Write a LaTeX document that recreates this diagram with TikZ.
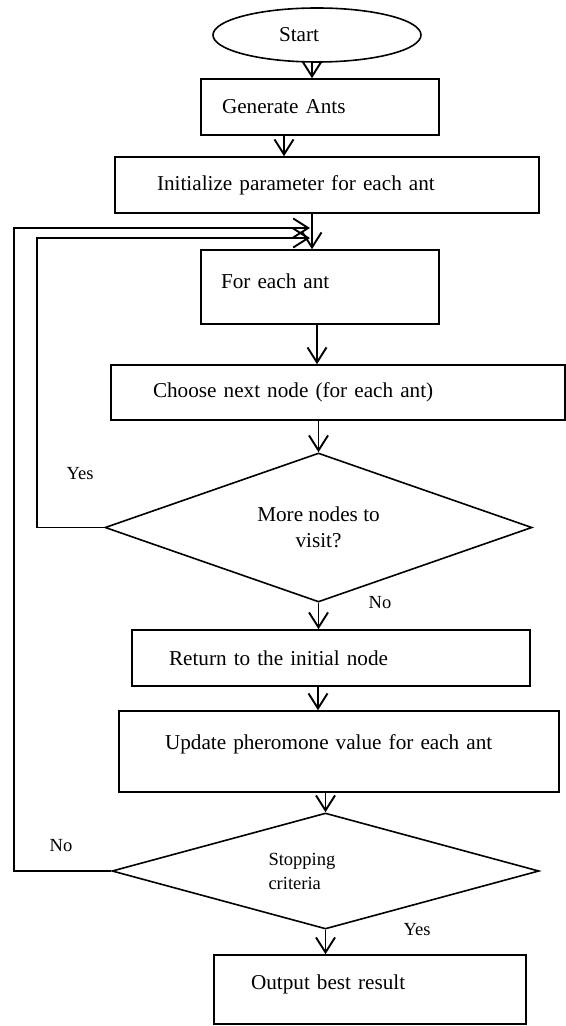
\documentclass[tikz,border=0pt]{standalone}
\usepackage{fontspec}
\setmainfont{Liberation Serif}
\usetikzlibrary{shapes.geometric,arrows.meta}

\begin{document}
\begin{tikzpicture}[x=0.5pt,y=-0.5pt,
    line width=0.8pt,
    startend/.style={draw,ellipse,inner sep=0pt,align=left,font=\fontsize{10.6}{13}\selectfont},
    procbox/.style={draw,rectangle,inner ysep=0pt,align=left,font=\fontsize{10.6}{13}\selectfont},
    decide/.style={draw,diamond,inner sep=0pt},
    flow/.style={line width=0.95pt,-{Straight Barb[length=7.5pt,width=9.5pt]}},
    tag/.style={font=\fontsize{9.25}{11}\selectfont}]
    \useasboundingbox (0,0) rectangle (566,1026);

    % main column
    \node[startend,minimum width=104pt,minimum height=27pt,text width=38pt] (start) at (317,35) {Start};
    \node[procbox,minimum height=28pt,inner xsep=10.5pt,text width=98pt] (gen) at (320,107) {Generate Ants};
    \node[procbox,minimum height=28pt,inner xsep=21pt,text width=170pt] (init) at (327,185) {Initialize parameter for each ant};
    \node[procbox,minimum height=37pt,inner xsep=10pt,text width=99pt,text depth=6pt] (forant) at (320,287) {For each ant};
    \node[procbox,minimum height=27.5pt,inner xsep=21pt,text width=185pt] (choose) at (338,392.5) {Choose next node (for each ant)};
    \node[decide,minimum width=213.5pt,minimum height=74.5pt,aspect=2.87,align=center,font=\fontsize{10.6}{13}\selectfont] (more) at (318.5,527.5) {More nodes to\\visit?};
    \node[procbox,minimum height=28pt,inner xsep=18.5pt,text width=162pt] (ret) at (331,658) {Return to the initial node};
    \node[procbox,minimum height=40.5pt,inner xsep=23pt,text width=174pt,text depth=9.3pt] (upd) at (339,751.5) {Update pheromone value for each ant};
    \node[decide,minimum width=213.5pt,minimum height=58pt,aspect=3.68,text width=57pt,align=left,font=\fontsize{9.25}{12}\selectfont] (stop) at (325.5,871) {Stopping\\criteria};
    \node[procbox,minimum height=34.5pt,inner xsep=18.5pt,text width=119pt,text depth=7.3pt] (out) at (370,989.5) {Output best result};

    % labels
    \node[tag] (yes1) at (80,474) {Yes};
    \node[tag] (no1) at (380,603) {No};
    \node[tag] (no2) at (61,846) {No};
    \node[tag] (yes2) at (417,930) {Yes};

    % where the loops come back
    \coordinate (join1) at (310,228);
    \coordinate (join2) at (310,238);

    \draw[flow] ([xshift=-2.5pt]start.south) -- ([xshift=-2.5pt]start.south |- gen.north);
    \draw[flow] ([xshift=-18pt]gen.south) -- ([xshift=-18pt]gen.south |- init.north);
    \draw[flow] ([xshift=-7.5pt]init.south) -- ([xshift=-7.5pt]init.south |- forant.north);
    \draw[flow] ([xshift=-1.5pt]forant.south) -- ([xshift=-1.5pt]forant.south |- choose.north);
    \draw[flow] (choose.south -| more.north) -- (more.north);
    \draw[flow] (more.south) -- (more.south |- ret.north);
    \draw[flow] ([xshift=-6.5pt]ret.south) -- ([xshift=-6.5pt]ret.south |- upd.north);
    \draw[flow] (upd.south -| stop.north) -- (stop.north);
    \draw[flow] (stop.south) -- (stop.south |- out.north);

    % loops back
    \draw[flow] (more.west) -- ++(-67,0) |- (join2);
    \draw[flow] (stop.west) -- ++(-97,0) |- (join1);
\end{tikzpicture}
\end{document}
